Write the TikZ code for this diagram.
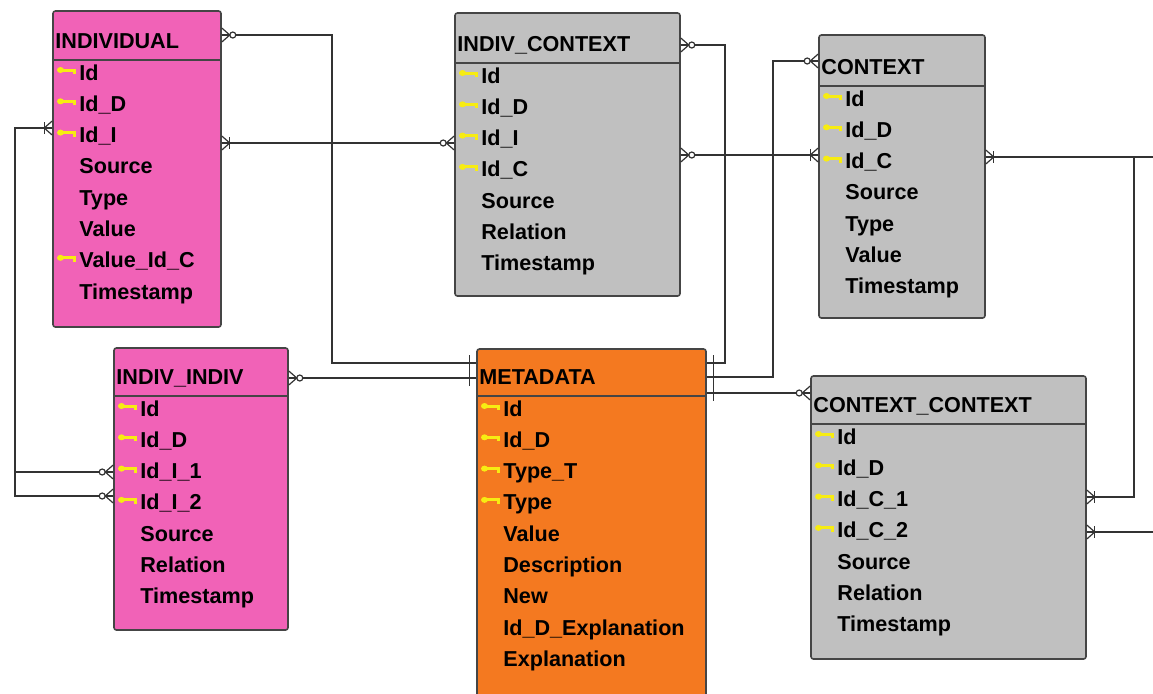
\documentclass[tikz,border=0pt]{standalone}
\usepackage{fontspec}
\setmainfont{Liberation Sans}
\usepackage{tikz}
\usetikzlibrary{positioning, fit}

\definecolor{indpink}{HTML}{F162B7}
\definecolor{ctxgray}{HTML}{C0C0C0}
\definecolor{metaorange}{HTML}{F47920}
\definecolor{keyyellow}{HTML}{F7EC12}
\definecolor{boxline}{HTML}{454545}

\tikzset{
  tbl/.style={draw=boxline, line width=0.8pt, rounded corners=1.2pt, inner sep=0pt},
  tblline/.style={draw=boxline, line width=0.8pt},
  ttl/.style={anchor=base west, inner sep=0pt, font=\fontsize{10.8}{12}\selectfont\bfseries},
  fld/.style={anchor=base west, inner sep=0pt, font=\fontsize{10.8}{12}\selectfont\bfseries},
  conn/.style={draw=black!80, line width=0.6pt},
  key/.pic={
    \fill[keyyellow] (3.5,0) ellipse (3.5 and 3);
    \draw[keyyellow, line width=1.5pt] (3.5,0) -- (17,0) -- (17,4);
  },
  zmany/.pic={
    \draw[conn] (0,-7) -- (8,0) -- (0,7) (0,0) -- (8,0);
    \draw[conn, fill=white] (11,0) circle (3);
  },
  omany/.pic={
    \draw[conn] (0,-7) -- (8,0) -- (0,7) (0,0) -- (8,0);
    \draw[conn] (8,-6) -- (8,6);
  },
  justone/.pic={
    \draw[conn] (7,-8) -- (7,8);
  }
}

% one table: name, fill, left, top, right, bottom, header line, title, fields
\newcommand{\ertable}[9]{%
  \node[tbl, fill=#2, fit={(#3,#4) (#5,#6)}] (#1) {};
  \draw[tblline] (#3,#7) -- (#5,#7);
  \node[ttl] (#1-title) at (#3+2,#7-12) {#8};
  \foreach \fname/\iskey [count=\i] in {#9} {
    \node[fld] (#1-\i) at (#3+26,{#7+20+31.3*(\i-1)}) {\fname};
    \ifnum\iskey=1 \pic at (#3+4,{#7+10+31.3*(\i-1)}) {key};\fi
  }%
}

\begin{document}
\begin{tikzpicture}[x=0.5pt,y=-0.5pt]
\useasboundingbox (0,0) rectangle (1153,693);
\clip (0,0) rectangle (1153,693);

% Tables
\ertable{ind}{indpink}{53}{11}{221}{327}{60}{INDIVIDUAL}%
  {Id/1, Id\_D/1, Id\_I/1, Source/0, Type/0, Value/0, Value\_Id\_C/1, Timestamp/0}
\ertable{ictx}{ctxgray}{455}{13}{680}{296}{63}{INDIV\_CONTEXT}%
  {Id/1, Id\_D/1, Id\_I/1, Id\_C/1, Source/0, Relation/0, Timestamp/0}
\ertable{ctx}{ctxgray}{819}{35}{985}{318}{86}{CONTEXT}%
  {Id/1, Id\_D/1, Id\_C/1, Source/0, Type/0, Value/0, Timestamp/0}
\ertable{ii}{indpink}{114}{348}{288}{630}{396}{INDIV\_INDIV}%
  {Id/1, Id\_D/1, Id\_I\_1/1, Id\_I\_2/1, Source/0, Relation/0, Timestamp/0}
\ertable{meta}{metaorange}{477}{349}{706}{710}{396}{METADATA}%
  {Id/1, Id\_D/1, Type\_T/1, Type/1, Value/0, Description/0, New/0, Id\_D\_Explanation/0, Explanation/0}
\ertable{cc}{ctxgray}{811}{376}{1086}{659}{424}{CONTEXT\_CONTEXT}%
  {Id/1, Id\_D/1, Id\_C\_1/1, Id\_C\_2/1, Source/0, Relation/0, Timestamp/0}

% Free ends at the right border
\coordinate (outA) at (1165,157);
\coordinate (outB) at (1165,532);

% Connectors
\draw[conn] (ind.east |- 0,35) -| (332,363) -- (meta.west |- 0,363);
\draw[conn] (ind.east |- 0,143) -- (ictx.west |- 0,143);
\draw[conn] (ii.east |- 0,378) -- (meta.west |- 0,378);
\draw[conn] (ictx.east |- 0,45) -| (725,363) -- (meta.east |- 0,363);
\draw[conn] (ictx.east |- 0,155) -- (ctx.west |- 0,155);
\draw[conn] (ctx.west |- 0,61) -| (773,377) -- (meta.east |- 0,377);
\draw[conn] (meta.east |- 0,393) -- (cc.west |- 0,393);
\draw[conn] (ctx.east |- 0,157) -- (outA);
\draw[conn] (cc.east |- 0,497) -| (1134,157);
\draw[conn] (cc.east |- 0,532) -- (outB);
\draw[conn] (ind.west |- 0,128) -| (15,496) -- (ii.west |- 0,496);
\draw[conn] (15,472) -- (ii.west |- 0,472);

% Line ends
\pic at (ind.east |- 0,35) {zmany};
\pic at (ind.east |- 0,143) {omany};
\pic[rotate=180] at (ind.west |- 0,128) {omany};
\pic[rotate=180] at (ictx.west |- 0,143) {zmany};
\pic at (ictx.east |- 0,45) {zmany};
\pic at (ictx.east |- 0,155) {zmany};
\pic[rotate=180] at (ctx.west |- 0,155) {omany};
\pic[rotate=180] at (ctx.west |- 0,61) {zmany};
\pic at (ctx.east |- 0,157) {omany};
\pic at (ii.east |- 0,378) {zmany};
\pic[rotate=180] at (ii.west |- 0,472) {zmany};
\pic[rotate=180] at (ii.west |- 0,496) {zmany};
\pic[rotate=180] at (meta.west |- 0,363) {justone};
\pic[rotate=180] at (meta.west |- 0,378) {justone};
\pic at (meta.east |- 0,363) {justone};
\pic at (meta.east |- 0,377) {justone};
\pic at (meta.east |- 0,393) {justone};
\pic[rotate=180] at (cc.west |- 0,393) {zmany};
\pic at (cc.east |- 0,497) {omany};
\pic at (cc.east |- 0,532) {omany};

\end{tikzpicture}
\end{document}
